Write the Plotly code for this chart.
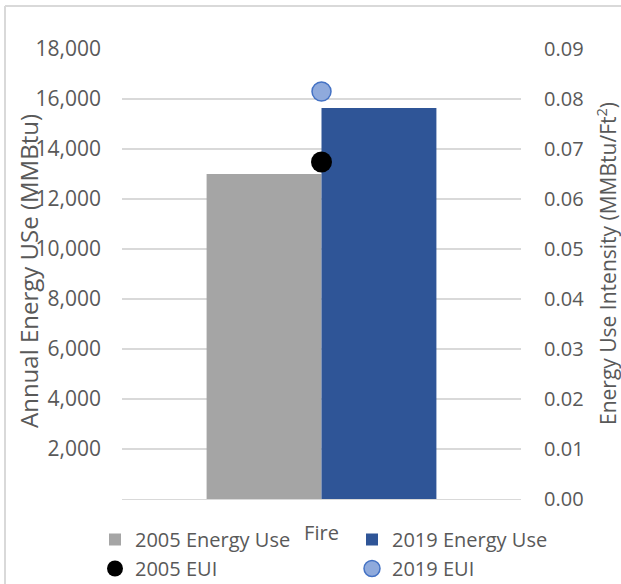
import plotly.graph_objects as go

# Chart data
categories = ["Fire"]
energy_2005 = [13000]
energy_2019 = [15640]
eui_2005 = [0.0674]
eui_2019 = [0.0815]
left_ticks = [2000, 4000, 6000, 8000, 10000, 12000, 14000, 16000, 18000]
right_ticks = [0.00, 0.01, 0.02, 0.03, 0.04, 0.05, 0.06, 0.07, 0.08, 0.09]

FONT = "Open Sans"
TEXT = "#595959"
GRID = "#d9d9d9"

fig = go.Figure()
fig.add_trace(go.Bar(x=categories, y=energy_2005, name="2005 Energy Use",
                     marker=dict(color="#a5a5a5", line=dict(width=0))))
fig.add_trace(go.Bar(x=categories, y=energy_2019, name="2019 Energy Use",
                     marker=dict(color="#2f5597", line=dict(width=0))))
fig.add_trace(go.Scatter(x=categories, y=eui_2005, name="2005 EUI", yaxis="y2",
                         mode="markers",
                         marker=dict(color="#000000", size=21, line=dict(width=0))))
fig.add_trace(go.Scatter(x=categories, y=eui_2019, name="2019 EUI", yaxis="y2",
                         mode="markers",
                         marker=dict(color="#8faadc", size=19,
                                     line=dict(color="#4472c4", width=1.5))))

L, R, T, B = 122, 100, 49, 85
W, H = 621, 584
pw, ph = W - L - R, H - T - B


def px_x(p):
    return (p - L) / pw


def px_y(p):
    return (H - B - p) / ph


fig.update_layout(
    width=W, height=H,
    margin=dict(l=L, r=R, t=T, b=B, autoexpand=False),
    paper_bgcolor="white", plot_bgcolor="white",
    font=dict(family=FONT, size=20, color=TEXT),
    barmode="group", bargap=0.424, bargroupgap=0,
    showlegend=True,
    legend=dict(orientation="h", x=px_x(95), xanchor="left",
                y=px_y(520), yanchor="top",
                entrywidth=212, entrywidthmode="pixels",
                font=dict(family=FONT, size=20, color=TEXT),
                bgcolor="rgba(0,0,0,0)", tracegroupgap=0),
    xaxis=dict(showgrid=False, showline=True, linecolor=GRID, linewidth=1,
               ticks="", ticklabelstandoff=16,
               tickfont=dict(family=FONT, size=20, color=TEXT)),
    yaxis=dict(range=[0, 18000], tickvals=left_ticks, tickformat=",d",
               showgrid=True, gridcolor=GRID, gridwidth=1.5,
               zeroline=False, showline=False, ticks="",
               ticklabelstandoff=20,
               tickfont=dict(family=FONT, size=21, color=TEXT)),
    yaxis2=dict(range=[0, 0.09], tickvals=right_ticks, tickformat=".2f",
                overlaying="y", side="right", showgrid=False,
                zeroline=False, showline=False, ticks="",
                ticklabelstandoff=22,
                tickfont=dict(family=FONT, size=20, color=TEXT)),
    annotations=[
        dict(text="Annual Energy USe (MMBtu)", textangle=-90,
             xref="paper", yref="paper", x=px_x(28), y=px_y(271),
             xanchor="center", yanchor="middle", showarrow=False,
             font=dict(family=FONT, size=24, color=TEXT)),
        dict(text="Energy Use Intensity (MMBtu/Ft<sup>2</sup>)", textangle=-90,
             xref="paper", yref="paper", x=px_x(606), y=px_y(264),
             xanchor="center", yanchor="middle", showarrow=False,
             font=dict(family=FONT, size=21, color=TEXT)),
    ],
    shapes=[
        dict(type="line", xref="paper", yref="paper",
             x0=px_x(5), x1=px_x(W + 5), y0=px_y(6), y1=px_y(6),
             line=dict(color=GRID, width=2)),
        dict(type="line", xref="paper", yref="paper",
             x0=px_x(5), x1=px_x(5), y0=px_y(6), y1=px_y(H + 5),
             line=dict(color=GRID, width=2)),
    ],
)

fig.write_html("out.html")
